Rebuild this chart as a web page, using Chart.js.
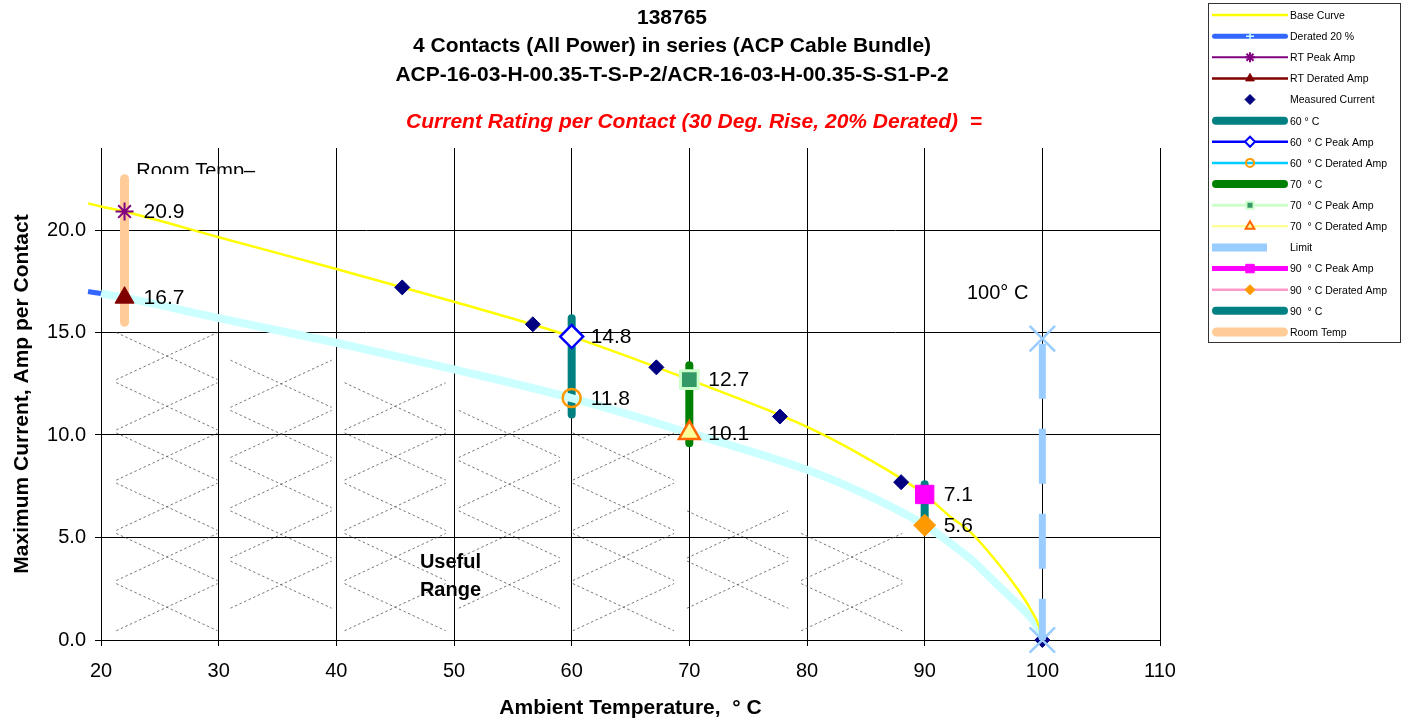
<!DOCTYPE html>
<html>
<head>
<meta charset="utf-8">
<script src="https://cdn.jsdelivr.net/npm/chart.js@4.4.1/dist/chart.umd.min.js"></script>
<style>
  html, body { margin: 0; padding: 0; background: #fff; }
  #chart { display: block; }
</style>
</head>
<body>
<canvas id="chart" width="1407" height="721"></canvas>
<script>
// curves
const temps        = [18.9, 20, 22, 30, 40, 50, 60, 70, 80, 85, 90, 92, 94, 96, 98, 99, 99.7, 100];
const baseCurve    = [21.3, 21.15, 20.9, 19.65, 18.1, 16.5, 14.8, 12.7, 10.4, 8.9, 7.1, 6.1, 5.2, 3.9, 2.4, 1.5, 0.7, 0];
const deratedCurve = [17.0, 16.9, 16.7, 15.7, 14.5, 13.2, 11.8, 10.1, 8.3, 7.1, 5.6, 4.8, 3.9, 2.8, 1.7, 1.1, 0.5, 0];

const measuredTemps = [45.6, 56.7, 67.2, 77.7, 88.0, 100];
const measuredAmps  = [17.2, 15.4, 13.3, 10.9, 7.7, 0];

// room temp, 60, 70, 90 deg C
const ratedTemps  = [22, 60, 70, 90];
const peakAmps    = [20.9, 14.8, 12.7, 7.1];
const deratedAmps = [16.7, 11.8, 10.1, 5.6];
const bandLow     = [15.5, 11.0, 9.6, 5.8];
const bandHigh    = [22.5, 15.7, 13.4, 7.6];

const limitTemp = 100;
const limitAmps = [14.7, 0];

const xTickMin = 20, xTickMax = 110, xTickStep = 10;
const yTickMin = 0, yTickMax = 24, yTickStep = 5;

const titleLines = [
  '138765',
  '4 Contacts (All Power) in series (ACP Cable Bundle)',
  'ACP-16-03-H-00.35-T-S-P-2/ACR-16-03-H-00.35-S-S1-P-2'
];
const ratingLine = 'Current Rating per Contact (30 Deg. Rise, 20% Derated)  =';

const FONT = "'Liberation Sans', Arial, sans-serif";
Chart.defaults.font.family = FONT;
Chart.defaults.color = '#000';

const pt = (x, y) => ({ x, y });

function marker(label, x, y, style, radius, fill, stroke, bw, legendColor, legendWidth, legendRadius) {
  return {
    label, data: [pt(x, y)], showLine: false,
    pointStyle: style, pointRadius: radius, pointBackgroundColor: fill,
    pointBorderColor: stroke, pointBorderWidth: bw, borderColor: stroke,
    legendColor, legendWidth, legendRadius, valueLabel: true, order: 1, clip: false
  };
}

function band(label, i, color, width) {
  return {
    label, data: [pt(ratedTemps[i], bandLow[i]), pt(ratedTemps[i], bandHigh[i])],
    showLine: true, borderColor: color, borderWidth: width, borderCapStyle: 'round',
    pointRadius: 0, legendWidth: width, legendCap: 'round', order: 6, clip: false
  };
}

const datasets = [
  {
    label: 'Base Curve', data: temps.map((t, i) => pt(t, baseCurve[i])),
    showLine: true, borderColor: '#ffff00', borderWidth: 2.5, pointRadius: 0,
    cubicInterpolationMode: 'monotone', legendWidth: 2.5, order: 4, clip: false
  },
  {
    label: 'Derated 20 %', data: temps.map((t, i) => pt(t, deratedCurve[i])),
    showLine: true, borderColor: '#3366ff', borderWidth: 8, pointRadius: 0,
    cubicInterpolationMode: 'monotone', order: 5, clip: false,
    segment: {
      borderColor: c => c.p0DataIndex === 0 ? '#3366ff' : '#ccffff',
      borderWidth: c => c.p0DataIndex === 0 ? 5 : 8
    },
    legendWidth: 5, legendCap: 'round',
    legendPoint: { pointStyle: 'cross', fill: '#ccffff', stroke: '#ccffff', bw: 1.5, r: 4 }
  },
  marker('RT Peak Amp', ratedTemps[0], peakAmps[0], 'star', 9, '#800080', '#800080', 2, '#800080', 2, 5),
  marker('RT Derated Amp', ratedTemps[0], deratedAmps[0], 'triangle', 11, '#800000', '#800000', 1, '#800000', 2.5, 5),
  {
    label: 'Measured Current', data: measuredTemps.map((t, i) => pt(t, measuredAmps[i])),
    showLine: false, pointStyle: 'rectRot', pointRadius: 7.5,
    pointBackgroundColor: '#000080', pointBorderColor: '#000080', pointBorderWidth: 1,
    borderColor: '#000080', legendWidth: 0, legendRadius: 5, order: 3, clip: false
  },
  band('60 ° C', 1, '#008080', 8),
  marker('60  ° C Peak Amp', ratedTemps[1], peakAmps[1], 'rectRot', 11.5, '#ffffff', '#0000ff', 2.5, '#0000ff', 2.5, 5),
  marker('60  ° C Derated Amp', ratedTemps[1], deratedAmps[1], 'circle', 9, 'rgba(0,0,0,0)', '#ff9900', 2.5, '#00ccff', 2.5, 4),
  band('70  ° C', 2, '#008000', 8),
  marker('70  ° C Peak Amp', ratedTemps[2], peakAmps[2], 'rect', 12.5, '#339966', '#ccffcc', 3, '#ccffcc', 3, 5),
  marker('70  ° C Derated Amp', ratedTemps[2], deratedAmps[2], 'triangle', 12, '#ffff99', '#ff6600', 2.5, '#ffff99', 2.5, 5),
  {
    label: 'Limit', data: limitAmps.map(a => pt(limitTemp, a)),
    showLine: true, borderColor: '#99ccff', borderWidth: 7, borderDash: [55, 30], borderDashOffset: -5,
    pointStyle: 'crossRot', pointRadius: 18, pointBorderColor: '#99ccff',
    pointBackgroundColor: '#99ccff', pointBorderWidth: 2.5,
    legendWidth: 8, legendRadius: 4, order: 2, clip: false
  },
  marker('90  ° C Peak Amp', ratedTemps[3], peakAmps[3], 'rect', 13, '#ff00ff', '#ff00ff', 1, '#ff00ff', 5, 6),
  marker('90  ° C Derated Amp', ratedTemps[3], deratedAmps[3], 'rectRot', 11, '#ff9900', '#ff9900', 1, '#ff99cc', 2.5, 5),
  band('90  ° C', 3, '#008080', 8),
  band('Room Temp', 0, '#ffcc99', 9)
];

function deratedAt(t) {
  for (let i = 1; i < temps.length; i++) {
    if (t <= temps[i]) {
      const f = (t - temps[i - 1]) / (temps[i] - temps[i - 1]);
      return deratedCurve[i - 1] + f * (deratedCurve[i] - deratedCurve[i - 1]);
    }
  }
  return 0;
}

// dashed cross-hatching under the derated curve
const hatchPlugin = {
  id: 'hatch',
  beforeDatasetsDraw(chart) {
    const { ctx, chartArea: a, scales: { x, y } } = chart;
    ctx.save();
    ctx.beginPath();
    ctx.rect(a.left, a.top, a.right - a.left, a.bottom - a.top);
    ctx.clip();
    ctx.strokeStyle = '#555';
    ctx.lineWidth = 0.8;
    ctx.setLineDash([2.5, 2.5]);
    const hw = 4.3, hh = 1.15;
    for (let c = 0; c < 8; c++) {
      const cx = 25.6 + c * 9.7;
      for (let r = 0; r < 8; r++) {
        const cy = 1.6 + r * 2.45 + (c % 2) * 1.1;
        if (cy + hh > deratedAt(cx + hw) - 0.2) continue;
        ctx.beginPath();
        ctx.moveTo(x.getPixelForValue(cx - hw), y.getPixelForValue(cy + hh));
        ctx.lineTo(x.getPixelForValue(cx + hw), y.getPixelForValue(cy - hh));
        ctx.moveTo(x.getPixelForValue(cx - hw), y.getPixelForValue(cy - hh));
        ctx.lineTo(x.getPixelForValue(cx + hw), y.getPixelForValue(cy + hh));
        ctx.stroke();
      }
    }
    ctx.restore();
  }
};

function drawMarker(ctx, style, r, fill, stroke, bw, px, py) {
  ctx.fillStyle = fill;
  ctx.strokeStyle = stroke;
  ctx.lineWidth = bw;
  Chart.helpers.drawPoint(ctx, { pointStyle: style, radius: r, rotation: 0, borderWidth: bw }, px, py);
}

const textPlugin = {
  id: 'texts',
  afterDatasetsDraw(chart) {
    const { ctx, scales: { x, y } } = chart;
    ctx.save();
    ctx.setLineDash([]);
    // value labels beside the markers
    ctx.font = '21px ' + FONT;
    ctx.fillStyle = '#000';
    ctx.textAlign = 'left';
    ctx.textBaseline = 'middle';
    chart.data.datasets.forEach((ds, i) => {
      if (!ds.valueLabel) return;
      const el = chart.getDatasetMeta(i).data[0];
      ctx.fillText(ds.data[0].y.toFixed(1), el.x + 19, el.y + 1);
    });
    // limit label
    ctx.font = '20px ' + FONT;
    ctx.textAlign = 'right';
    ctx.fillText('100° C', x.getPixelForValue(limitTemp) - 14, y.getPixelForValue(16.9));
    // useful range
    ctx.font = 'bold 20px ' + FONT;
    ctx.textAlign = 'center';
    ctx.fillText('Useful', x.getPixelForValue(49.7), y.getPixelForValue(3.8));
    ctx.fillText('Range', x.getPixelForValue(49.7), y.getPixelForValue(2.4));
    // clipped room temp box
    ctx.save();
    ctx.beginPath();
    ctx.rect(0, chart.chartArea.top, 400, 26);
    ctx.clip();
    ctx.font = '20px ' + FONT;
    ctx.textAlign = 'left';
    ctx.textBaseline = 'alphabetic';
    ctx.fillText('Room Temp–', x.getPixelForValue(23.0), chart.chartArea.top + 29);
    ctx.restore();
    ctx.restore();
  },
  afterDraw(chart) {
    const ctx = chart.ctx;
    ctx.save();
    ctx.fillStyle = '#000';
    ctx.textAlign = 'center';
    ctx.textBaseline = 'middle';
    ctx.font = 'bold 21px ' + FONT;
    titleLines.forEach((t, i) => ctx.fillText(t, 672, 18 + i * 28.5));
    ctx.font = 'italic bold 21px ' + FONT;
    ctx.fillStyle = '#ff0000';
    ctx.fillText(ratingLine, 694, 122);

    // legend box
    const bx = 1208, by = 3, bw = 192, bh = 339, step = 21.13;
    ctx.fillStyle = '#fff';
    ctx.fillRect(bx, by, bw, bh);
    ctx.strokeStyle = '#333';
    ctx.lineWidth = 1;
    ctx.strokeRect(bx + 0.5, by + 0.5, bw, bh);
    ctx.font = '10.5px ' + FONT;
    ctx.textAlign = 'left';
    chart.data.datasets.forEach((ds, i) => {
      const ly = by + 12 + i * step;
      const lw = ds.legendWidth !== undefined ? ds.legendWidth : ds.borderWidth;
      if (lw > 0) {
        ctx.save();
        ctx.strokeStyle = ds.legendColor || ds.borderColor;
        ctx.lineWidth = lw;
        ctx.lineCap = ds.legendCap || 'butt';
        ctx.setLineDash(ds.borderDash || []);
        const inset = ds.legendCap === 'round' ? lw / 2 : 0;
        ctx.beginPath();
        ctx.moveTo(bx + 4 + inset, ly);
        ctx.lineTo(bx + 80 - inset, ly);
        ctx.stroke();
        ctx.restore();
      }
      const lp = ds.legendPoint;
      if (lp) {
        drawMarker(ctx, lp.pointStyle, lp.r, lp.fill, lp.stroke, lp.bw, bx + 42, ly);
      } else if (ds.legendRadius) {
        drawMarker(ctx, ds.pointStyle, ds.legendRadius, ds.pointBackgroundColor,
          ds.pointBorderColor, Math.min(ds.pointBorderWidth, 2), bx + 42, ly);
      }
      ctx.fillStyle = '#000';
      ctx.fillText(ds.label, bx + 82, ly + 1);
    });
    ctx.restore();
  }
};

const onStep = v => v % yTickStep === 0;

const ctx = document.getElementById('chart').getContext('2d');
const chart = new Chart(ctx, {
  type: 'scatter',
  data: { datasets },
  options: {
    responsive: false,
    animation: false,
    events: [],
    layout: { padding: { left: 0, top: 148, right: 247, bottom: 0 } },
    plugins: {
      legend: { display: false },
      tooltip: { enabled: false },
      title: { display: false }
    },
    scales: {
      x: {
        type: 'linear', min: xTickMin, max: xTickMax,
        afterFit: s => { s.height = 81; },
        ticks: { stepSize: xTickStep, font: { size: 20 }, color: '#000', padding: 13, maxRotation: 0 },
        grid: { color: '#000', lineWidth: 1, tickLength: 6 },
        border: { color: '#000', width: 1 },
        title: {
          display: true, text: 'Ambient Temperature,  ° C',
          font: { size: 21, weight: 'bold' }, color: '#000', padding: { top: 0, bottom: 0 }
        }
      },
      y: {
        type: 'linear', min: yTickMin, max: yTickMax,
        afterFit: s => { s.width = 101; },
        ticks: {
          stepSize: yTickStep, font: { size: 20 }, color: '#000', padding: 9,
          callback: v => onStep(v) ? v.toFixed(1) : ''
        },
        grid: {
          color: c => onStep(c.tick.value) ? '#000' : 'rgba(0,0,0,0)',
          lineWidth: 1, tickLength: 6
        },
        border: { color: '#000', width: 1 },
        title: {
          display: true, text: 'Maximum Current, Amp per Contact',
          font: { size: 21, weight: 'bold' }, color: '#000', padding: { top: 10, bottom: 0 }
        }
      }
    }
  },
  plugins: [hatchPlugin, textPlugin]
});
</script>
</body>
</html>
